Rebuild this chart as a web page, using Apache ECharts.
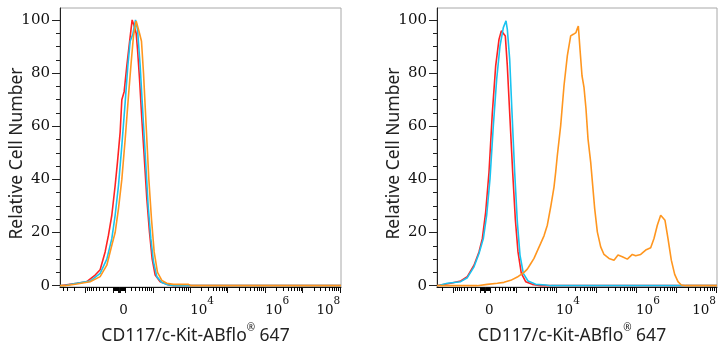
<!DOCTYPE html>
<html><head><meta charset="utf-8">
<script src="https://cdn.jsdelivr.net/npm/echarts@6/dist/echarts.min.js"></script>
<style>html,body{margin:0;padding:0;background:#fff}#c{width:728px;height:350px}</style>
</head><body><div id="c"></div>
<script>
// ---- display-scale positions (decade units: 10^4 -> 4, 10^8 -> 8) and relative counts ----
// Left panel
const L_redX = [0.53,0.578,0.978,1.244,1.467,1.6,1.733,1.822,1.911,2.0,2.062,2.133,2.178,2.24,2.311,2.382,2.453,2.507,2.56,2.596,2.649,2.711,2.773,2.844,2.916,2.987,3.067,3.2,3.378,3.556,8.02];
const L_redY = [0,0,0.9,1.5,4,6,12.7,19,26.5,37.7,46.5,57.7,70,73,82.7,91.5,100,97.7,95,89,78,62.7,49,32.7,20,10,4,1.5,0.5,0,0];
const L_blueX = [0.53,0.622,0.978,1.333,1.6,1.778,1.911,2.0,2.089,2.178,2.267,2.338,2.4,2.471,2.542,2.596,2.667,2.738,2.809,2.88,2.951,3.022,3.111,3.244,3.422,3.6,8.02];
const L_blueY = [0,0,0.9,1.7,4.6,10,17.7,26.5,37.7,52.7,69,82.7,92,94.6,100,96.5,82.7,65,47.7,30,17.7,9,3.4,1.2,0.25,0,0];
const L_orangeX = [0.53,0.667,0.978,1.333,1.6,1.778,1.911,2.0,2.089,2.178,2.267,2.356,2.427,2.489,2.56,2.596,2.649,2.702,2.756,2.827,2.898,2.969,3.04,3.129,3.244,3.378,3.556,3.956,4.018,8.02];
const L_orangeY = [0,0,0.6,1.5,3.4,7.7,15.2,20,29,40,55,71.5,84,94,99.6,100,95,92,80,60,40,25,12.7,5,2,0.9,0.5,0.5,0,0];
// Right panel
const R_redX = [1.025,1.117,1.367,1.617,1.783,1.95,2.075,2.158,2.242,2.325,2.408,2.492,2.575,2.633,2.683,2.733,2.783,2.85,2.917,2.983,3.05,3.133,3.242,3.408,3.617,8.025];
const R_redY = [0,0.25,0.9,1.75,3.4,7.7,12.7,17.7,27.7,42.7,65,82.7,92.7,95.9,96.5,94,82.7,62.7,42.7,25,12.7,4.6,1.5,0.5,0,0];
const R_blueX = [1.025,1.117,1.283,1.617,1.783,1.95,2.075,2.183,2.267,2.35,2.433,2.517,2.6,2.683,2.75,2.783,2.842,2.9,2.967,3.033,3.1,3.183,3.3,3.492,3.742,3.867,8.025];
const R_blueY = [0,0.25,0.9,1.5,3,7.1,12.1,17.7,26.5,40.2,60.2,77.7,90.2,97.1,99.7,96.5,85.2,65.2,42.7,24,11.5,4.6,1.75,0.5,0.25,0,0];
const R_orangeX = [1.025,2.033,2.283,2.533,2.7,2.867,3.033,3.2,3.283,3.367,3.45,3.533,3.617,3.7,3.783,3.867,3.95,3.992,4.033,4.117,4.2,4.283,4.367,4.433,4.5,4.533,4.558,4.6,4.65,4.7,4.75,4.8,4.867,4.917,4.967,5.033,5.117,5.2,5.325,5.45,5.55,5.658,5.783,5.908,5.992,6.117,6.242,6.367,6.45,6.533,6.617,6.658,6.725,6.8,6.883,6.967,7.05,7.133,7.242,8.025];
const R_orangeY = [0,0,0.5,0.9,1.25,2,3.25,5,6.25,8.25,10.25,13.1,15.9,18.75,22.75,29.6,37.1,42.75,49,60.25,75.25,86.5,94,94.6,95.25,96.75,97.75,89,79,74.6,66.5,55.25,46.5,37.75,29,20.25,14.6,11.75,10.25,9.6,11.5,10.9,10,11.75,11.25,11.75,13.4,14.25,17.75,22.75,26.5,27.1,24.6,17.75,9.6,4.25,1.5,0.25,0,0];

// ---- axis labels ----
const xLabelValues = [0, 1e4, 1e6, 1e8];
const xLabelExp = [null, 4, 6, 8];
const yLabelValues = [0, 20, 40, 60, 80, 100];
const yMinorValues = [5,10,15,25,30,35,45,50,55,65,70,75,85,90,95];
const xTitle = 'CD117/c-Kit-ABflo';
const yTitle = 'Relative Cell Number';

// biexponential-like display transform per panel
const panels = [
  {u0: 2.107, c: 256, min: 0.53, max: 8.02, left: 60, width: 281},
  {u0: 2.225, c: 336, min: 1.025, max: 8.025, left: 437, width: 280}
];
function biex(v, p) { return p.u0 + Math.asinh(v / p.c) / Math.LN10; }
function ticks(p) {
  const major = [biex(0, p)], minor = [];
  for (let n = 1; n <= 8; n++) for (let k = 1; k <= 9; k++) for (const s of [1, -1]) {
    const d = biex(s * k * Math.pow(10, n), p);
    if (d >= p.min - 1e-6 && d <= p.max + 1e-6) (k === 1 ? major : minor).push(d);
  }
  return {major, minor};
}
const zip = (xs, ys) => xs.map((x, i) => [x, ys[i]]);

const serif = 'DejaVu Serif';
const sans = 'Noto Sans';
const grids = [], xAxes = [], yAxes = [], series = [];
const colors = {red: '#ff2323', blue: '#19c3f0', orange: '#ff961f'};
const dataSets = [
  [[L_redX, L_redY, 'red'], [L_blueX, L_blueY, 'blue'], [L_orangeX, L_orangeY, 'orange']],
  [[R_redX, R_redY, 'red'], [R_blueX, R_blueY, 'blue'], [R_orangeX, R_orangeY, 'orange']]
];
panels.forEach((p, gi) => {
  grids.push({left: p.left, top: 8, width: p.width, height: 280, show: true, borderColor: '#a8a8a8', borderWidth: 1, backgroundColor: 'transparent'});
  const t = ticks(p);
  const labelPos = xLabelValues.map(v => biex(v, p));
  xAxes.push({
    gridIndex: gi, type: 'value', position: 'bottom', min: p.min, max: p.max,
    axisLine: {show: true, onZero: false, lineStyle: {color: '#111', width: 1}},
    axisTick: {show: true, customValues: t.major, length: 6, lineStyle: {color: '#111', width: 1}},
    axisLabel: {
      customValues: labelPos, align: 'left', alignMaxLabel: 'right', margin: 9,
      formatter: function (v) {
        let bi = 0, bd = 1e9;
        labelPos.forEach((lp, i) => { const d = Math.abs(lp - v); if (d < bd) { bd = d; bi = i; } });
        return xLabelExp[bi] === null ? '{m|0}' : '{m|10}{s|' + xLabelExp[bi] + '}';
      },
      rich: {
        m: {fontFamily: serif, fontSize: 13.5, color: '#111', verticalAlign: 'bottom', lineHeight: 21},
        s: {fontFamily: serif, fontSize: 10.5, color: '#111', verticalAlign: 'top', lineHeight: 21}
      }
    },
    splitLine: {show: false},
    name: '{a|' + xTitle + '}{r|®}{a| 647}', nameLocation: 'middle', nameGap: 36,
    nameTextStyle: {padding: [0, 10, 0, 0], rich: {
      a: {fontFamily: sans, fontSize: 17.5, color: '#222', verticalAlign: 'bottom', lineHeight: 22},
      r: {fontFamily: sans, fontSize: 10, color: '#222', verticalAlign: 'top', lineHeight: 22}
    }}
  });
  xAxes.push({
    gridIndex: gi, type: 'value', position: 'bottom', min: p.min, max: p.max,
    axisLine: {show: false, onZero: false}, axisLabel: {show: false}, splitLine: {show: false},
    axisTick: {show: true, customValues: t.minor, length: 4, lineStyle: {color: '#000', width: 1}}
  });
  yAxes.push({
    gridIndex: gi, type: 'value', position: 'left', min: -0.5, max: 104.5,
    axisLine: {show: true, onZero: false, lineStyle: {color: '#222', width: 1}},
    axisTick: {show: true, customValues: yLabelValues, length: 8, lineStyle: {color: '#222'}},
    axisLabel: {customValues: yLabelValues, fontFamily: serif, fontSize: 15, color: '#111', margin: 10},
    splitLine: {show: false},
    name: yTitle, nameLocation: 'middle', nameGap: 34, nameMoveOverlap: false,
    nameTextStyle: {fontFamily: sans, fontSize: 17.5, color: '#222', padding: [0, 12, 0, 0]}
  });
  yAxes.push({
    gridIndex: gi, type: 'value', position: 'left', min: -0.5, max: 104.5,
    axisLine: {show: false, onZero: false}, axisLabel: {show: false}, splitLine: {show: false},
    axisTick: {show: true, customValues: yMinorValues, length: 4, lineStyle: {color: '#222'}}
  });
  dataSets[gi].forEach(([xs, ys, col]) => {
    series.push({
      type: 'line', xAxisIndex: gi * 2, yAxisIndex: gi * 2, data: zip(xs, ys),
      showSymbol: false, symbol: 'none', smooth: false, clip: true,
      lineStyle: {color: colors[col], width: 1.6}, itemStyle: {color: colors[col]}
    });
  });
});

const chart = echarts.init(document.getElementById('c'), null, {renderer: 'canvas'});
chart.setOption({
  backgroundColor: '#fff', animation: false,
  grid: grids, xAxis: xAxes, yAxis: yAxes, series: series
});
</script></body></html>
